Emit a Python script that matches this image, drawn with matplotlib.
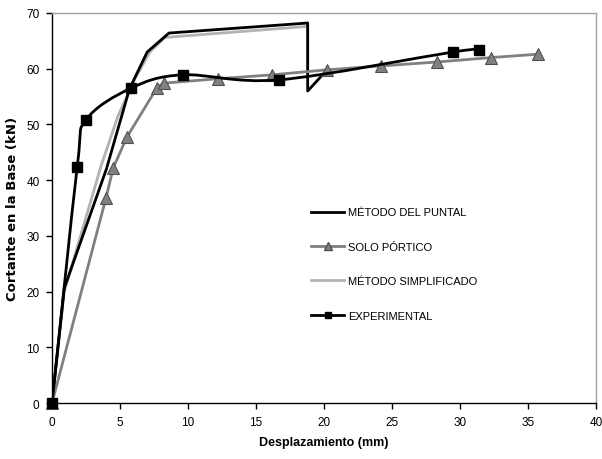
import numpy as np
import matplotlib
matplotlib.use("Agg")
import matplotlib.pyplot as plt
from matplotlib.path import Path
from matplotlib.patches import PathPatch
from matplotlib.lines import Line2D

plt.rcParams['font.family'] = ['Liberation Sans Narrow', 'Liberation Sans', 'DejaVu Sans']

# curve data (desplazamiento mm, cortante kN)
puntal_x = [0, 0.9, 4.0, 5.7, 7.0, 8.6, 18.8, 18.8, 20.2]
puntal_y = [0, 20.6, 42.0, 56.4, 63.0, 66.4, 68.2, 56.0, 59.7]

portico_x = [0, 3.97, 4.5, 5.5, 7.7, 8.2, 12.2, 16.2, 20.2, 24.2, 28.3, 32.3, 35.7]
portico_y = [0, 36.8, 42.2, 47.7, 56.5, 57.4, 58.2, 58.9, 59.8, 60.5, 61.2, 62.0, 62.6]

simplif_x = [0, 0.9, 3.6, 4.85, 6.1, 7.2, 8.3, 9.3, 18.8, 18.8]
simplif_y = [0, 20.0, 42.5, 51.5, 58.2, 63.0, 65.6, 65.8, 67.6, 59.5]

exp_x = [0, 1.85, 2.5, 5.8, 9.6, 16.7, 29.5, 31.4]
exp_y = [0, 42.3, 50.8, 56.5, 58.9, 58.0, 63.0, 63.4]

labels = ["MÉTODO DEL PUNTAL", "SOLO PÓRTICO", "MÉTODO SIMPLIFICADO", "EXPERIMENTAL"]


def smooth_path(xs, ys):
    """Excel-like smoothed line: cubic Bezier segments through the points."""
    pts = np.column_stack([xs, ys]).astype(float)
    n = len(pts)
    verts = [pts[0]]
    codes = [Path.MOVETO]
    for i in range(n - 1):
        p0 = pts[i - 1] if i > 0 else pts[i]
        p1 = pts[i]
        p2 = pts[i + 1]
        p3 = pts[i + 2] if i + 2 < n else pts[i + 1]
        c1 = p1 + (p2 - p0) / 6.0
        c2 = p2 - (p3 - p1) / 6.0
        verts += [c1, c2, p2]
        codes += [Path.CURVE4] * 3
    return Path(verts, codes)


fig = plt.figure(figsize=(6.02, 4.60), dpi=100)
ax = fig.add_axes([0.0864, 0.1217, 0.9036, 0.8479])

c_portico = '#808080'
c_simplif = '#b2b2b2'

ax.plot(simplif_x, simplif_y, color=c_simplif, lw=2.0, zorder=2)
ax.plot(puntal_x, puntal_y, color='black', lw=2.0, zorder=3)
ax.plot(portico_x, portico_y, color=c_portico, lw=2.0, marker='^', ms=8,
        mfc=c_portico, mec='#505050', mew=0.8, zorder=4, clip_on=False)

exp_patch = PathPatch(smooth_path(exp_x, exp_y), fill=False, ec='black', lw=2.0, zorder=5)
ax.add_patch(exp_patch)
ax.plot(exp_x, exp_y, ls='none', marker='s', ms=7, color='black', zorder=6, clip_on=False)

ax.set_xlim(0, 40)
ax.set_ylim(0, 70)
ax.set_xticks(np.arange(0, 41, 5))
ax.set_yticks(np.arange(0, 71, 10))
ax.tick_params(direction='out', length=4, width=1, labelsize=8.5, pad=5)

for s in ['top', 'right']:
    ax.spines[s].set_color('#a0a0a0')
    ax.spines[s].set_linewidth(1.0)
for s in ['left', 'bottom']:
    ax.spines[s].set_color('black')
    ax.spines[s].set_linewidth(1.0)

ax.set_xlabel("Desplazamiento (mm)", fontsize=9, fontweight='bold',
              family=['Liberation Sans Narrow', 'Liberation Sans'], labelpad=6)
ax.set_ylabel("Cortante en la Base (kN)", fontsize=9.5, fontweight='bold',
              family=['DejaVu Sans'], labelpad=5)

handles = [
    Line2D([], [], color='black', lw=2.0),
    Line2D([], [], color=c_portico, lw=2.0, marker='^', ms=6, mfc=c_portico, mec='#505050'),
    Line2D([], [], color=c_simplif, lw=2.0),
    Line2D([], [], color='black', lw=2.0, marker='s', ms=5),
]
ax.legend(handles, labels, loc='upper left', bbox_to_anchor=(0.458, 0.527),
          frameon=False, fontsize=8, labelspacing=2.2, handlelength=3.0,
          handletextpad=0.3)

fig.savefig("out.png", dpi=100)
